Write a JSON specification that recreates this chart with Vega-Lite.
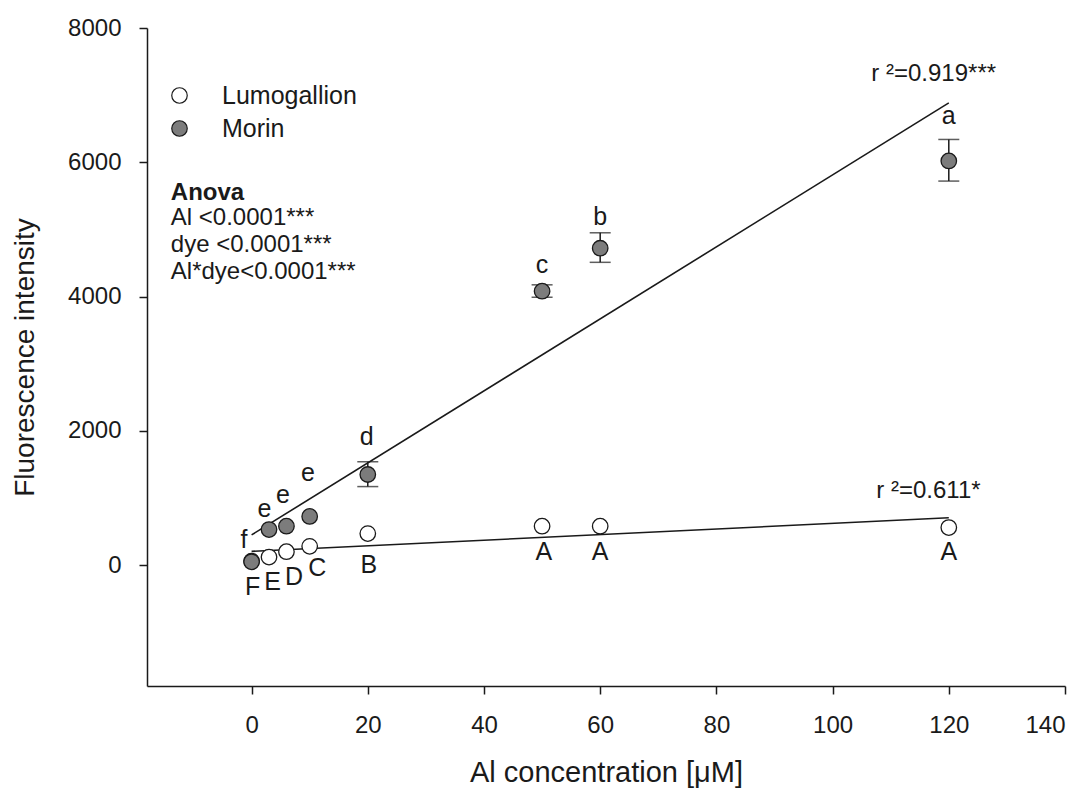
{
  "$schema": "https://vega.github.io/schema/vega-lite/v6.json",
  "width": 918,
  "height": 658,
  "autosize": "none",
  "padding": {"left": 147, "top": 28, "right": 24, "bottom": 108},
  "background": "white",
  "config": {
    "font": "Liberation Sans",
    "view": {"stroke": null},
    "axis": {
      "grid": false,
      "domainColor": "#1a1a1a",
      "domainWidth": 1.5,
      "tickColor": "#1a1a1a",
      "tickWidth": 1.5,
      "tickSize": 8,
      "labelColor": "#1a1a1a",
      "labelFontSize": 24,
      "titleColor": "#1a1a1a",
      "titleFontSize": 28,
      "titleFontWeight": "normal"
    },
    "axisX": {"labelPadding": 19, "titlePadding": 21, "titleFontSize": 29},
    "axisY": {"labelPadding": 18, "titlePadding": 28},
    "legend": {
      "symbolStrokeColor": "#1a1a1a",
      "symbolStrokeWidth": 1.2,
      "symbolSize": 240,
      "labelFontSize": 25,
      "labelColor": "#1a1a1a",
      "labelOffset": 30,
      "rowPadding": 7
    }
  },
  "datasets": {
    "pts": [
      {"dye": "Lumogallion", "al": 0, "fi": 60, "lo": null, "hi": null},
      {"dye": "Lumogallion", "al": 3, "fi": 120, "lo": null, "hi": null},
      {"dye": "Lumogallion", "al": 6, "fi": 200, "lo": null, "hi": null},
      {"dye": "Lumogallion", "al": 10, "fi": 280, "lo": null, "hi": null},
      {"dye": "Lumogallion", "al": 20, "fi": 470, "lo": null, "hi": null},
      {"dye": "Lumogallion", "al": 50, "fi": 580, "lo": null, "hi": null},
      {"dye": "Lumogallion", "al": 60, "fi": 580, "lo": null, "hi": null},
      {"dye": "Lumogallion", "al": 120, "fi": 560, "lo": null, "hi": null},
      {"dye": "Morin", "al": 0, "fi": 50, "lo": null, "hi": null},
      {"dye": "Morin", "al": 3, "fi": 530, "lo": null, "hi": null},
      {"dye": "Morin", "al": 6, "fi": 580, "lo": null, "hi": null},
      {"dye": "Morin", "al": 10, "fi": 725, "lo": null, "hi": null},
      {"dye": "Morin", "al": 20, "fi": 1350, "lo": 1170, "hi": 1540},
      {"dye": "Morin", "al": 50, "fi": 4080, "lo": 3990, "hi": 4175},
      {"dye": "Morin", "al": 60, "fi": 4720, "lo": 4510, "hi": 4950},
      {"dye": "Morin", "al": 120, "fi": 6020, "lo": 5720, "hi": 6340}
    ],
    "fit": [
      {"dye": "Morin", "al": 0, "fi": 450},
      {"dye": "Morin", "al": 120, "fi": 6885},
      {"dye": "Lumogallion", "al": 0, "fi": 205},
      {"dye": "Lumogallion", "al": 120, "fi": 705}
    ],
    "letters": [
      {"label": "f", "al": -1.3, "fi": 380},
      {"label": "e", "al": 2.2, "fi": 830},
      {"label": "e", "al": 5.4, "fi": 1050},
      {"label": "e", "al": 9.7, "fi": 1375},
      {"label": "d", "al": 19.8, "fi": 1915},
      {"label": "c", "al": 50, "fi": 4470},
      {"label": "b", "al": 60, "fi": 5190},
      {"label": "a", "al": 120, "fi": 6690},
      {"label": "F", "al": 0.2, "fi": -320},
      {"label": "E", "al": 3.6, "fi": -245},
      {"label": "D", "al": 7.3, "fi": -170},
      {"label": "C", "al": 11.3, "fi": -45},
      {"label": "B", "al": 20.2, "fi": 5},
      {"label": "A", "al": 50.3, "fi": 200},
      {"label": "A", "al": 60, "fi": 200},
      {"label": "A", "al": 120, "fi": 200}
    ],
    "r2": [
      {"label": "r ²=0.919***", "al": 117.4, "fi": 7309},
      {"label": "r ²=0.611*", "al": 116.5, "fi": 1100}
    ],
    "anova": [
      {"label": "Anova", "bold": true, "al": -13.9, "fi": 5539},
      {"label": "Al <0.0001***", "bold": false, "al": -13.9, "fi": 5166},
      {"label": "dye <0.0001***", "bold": false, "al": -13.9, "fi": 4766},
      {"label": "Al*dye<0.0001***", "bold": false, "al": -13.9, "fi": 4368}
    ]
  },
  "encoding": {
    "x": {
      "field": "al",
      "type": "quantitative",
      "title": "Al concentration [μM]",
      "scale": {"domain": [-18, 140], "nice": false, "zero": false},
      "axis": {"values": [0, 20, 40, 60, 80, 100, 120, 140], "format": "d"}
    },
    "y": {
      "field": "fi",
      "type": "quantitative",
      "title": "Fluorescence intensity",
      "scale": {"domain": [-1800, 8000], "nice": false, "zero": false},
      "axis": {"values": [0, 2000, 4000, 6000, 8000], "format": "d"}
    }
  },
  "layer": [
    {
      "data": {"name": "fit"},
      "mark": {"type": "line", "color": "#1a1a1a", "strokeWidth": 1.6},
      "encoding": {"detail": {"field": "dye"}}
    },
    {
      "data": {"name": "pts"},
      "transform": [{"filter": "datum.lo != null"}],
      "mark": {"type": "rule", "color": "#1a1a1a", "strokeWidth": 1.5},
      "encoding": {
        "y": {"field": "lo", "type": "quantitative", "title": "Fluorescence intensity"},
        "y2": {"field": "hi"}
      }
    },
    {
      "data": {"name": "pts"},
      "transform": [{"filter": "datum.lo != null"}],
      "mark": {"type": "tick", "orient": "horizontal", "color": "#1a1a1a", "size": 21, "thickness": 1.5},
      "encoding": {
        "y": {"field": "lo", "type": "quantitative", "title": "Fluorescence intensity"}
      }
    },
    {
      "data": {"name": "pts"},
      "transform": [{"filter": "datum.lo != null"}],
      "mark": {"type": "tick", "orient": "horizontal", "color": "#1a1a1a", "size": 21, "thickness": 1.5},
      "encoding": {
        "y": {"field": "hi", "type": "quantitative", "title": "Fluorescence intensity"}
      }
    },
    {
      "data": {"name": "pts"},
      "mark": {"type": "circle", "size": 240, "stroke": "#1a1a1a", "strokeWidth": 1.3, "opacity": 1},
      "encoding": {
        "fill": {
          "field": "dye",
          "type": "nominal",
          "scale": {"domain": ["Lumogallion", "Morin"], "range": ["#ffffff", "#7c7c7c"]},
          "legend": {"title": null, "orient": "none", "legendX": 20, "legendY": 55, "symbolType": "circle"}
        }
      }
    },
    {
      "data": {"name": "letters"},
      "mark": {"type": "text", "fontSize": 25, "color": "#1a1a1a", "baseline": "middle", "align": "center"},
      "encoding": {"text": {"field": "label"}}
    },
    {
      "data": {"name": "r2"},
      "mark": {"type": "text", "fontSize": 24, "color": "#1a1a1a", "baseline": "middle", "align": "center"},
      "encoding": {"text": {"field": "label"}}
    },
    {
      "data": {"name": "anova"},
      "transform": [{"filter": "datum.bold"}],
      "mark": {"type": "text", "fontSize": 24, "fontWeight": "bold", "color": "#1a1a1a", "baseline": "middle", "align": "left"},
      "encoding": {"text": {"field": "label"}}
    },
    {
      "data": {"name": "anova"},
      "transform": [{"filter": "!datum.bold"}],
      "mark": {"type": "text", "fontSize": 24, "color": "#1a1a1a", "baseline": "middle", "align": "left"},
      "encoding": {"text": {"field": "label"}}
    }
  ]
}
